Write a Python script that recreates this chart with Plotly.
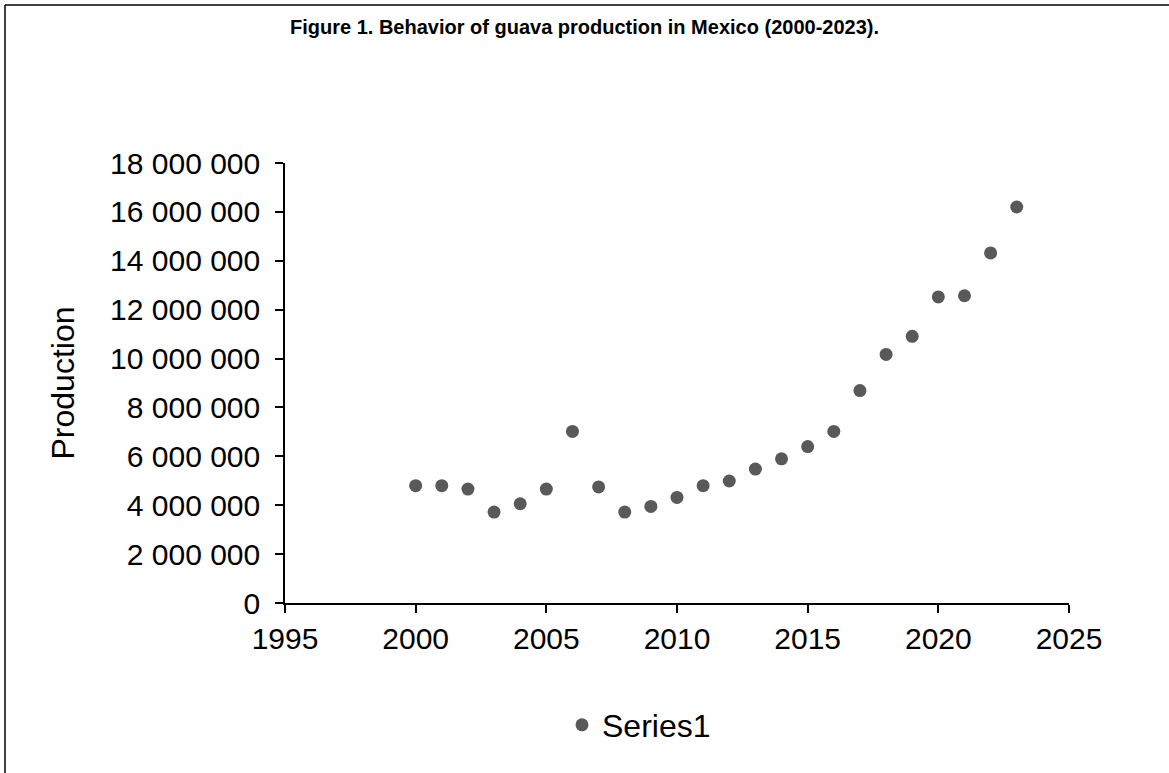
import plotly.graph_objects as go

years = list(range(2000, 2024))
production = [4800000, 4800000, 4660000, 3720000, 4060000, 4660000, 7020000, 4750000,
              3720000, 3950000, 4320000, 4800000, 4990000, 5480000, 5900000, 6400000,
              7020000, 8690000, 10170000, 10910000, 12520000, 12570000, 14320000, 16200000]
x_ticks = [1995, 2000, 2005, 2010, 2015, 2020, 2025]
y_ticks = list(range(0, 18000001, 2000000))

W, H = 1169, 773
L, R, T, B = 285, 100, 163, 170
pw, ph = W - L - R, H - T - B

def px(xp):
    return (xp - L) / pw

def py(yp):
    return (H - B - yp) / ph

fig = go.Figure()
fig.add_trace(go.Scatter(
    x=years, y=production, mode="markers", name="Series1",
    marker=dict(color="#595959", size=13, line=dict(width=0)),
))

axis_font = dict(family="Liberation Sans, Arial, sans-serif", size=30, color="#000000")

fig.update_layout(
    width=W, height=H,
    margin=dict(l=L, r=R, t=T, b=B, autoexpand=False),
    paper_bgcolor="white", plot_bgcolor="white",
    separators=". ",
    title=dict(
        text="<b>Figure 1. Behavior of guava production in Mexico (2000-2023).</b>",
        x=0.5, xanchor="center", y=1 - 27 / H, yanchor="middle",
        font=dict(family="Liberation Sans, Arial, sans-serif", size=20, color="#000000"),
    ),
    xaxis=dict(
        range=[1995, 2025], tickvals=x_ticks, ticktext=[str(v) for v in x_ticks],
        showgrid=False, zeroline=False, showline=True, linecolor="black", linewidth=1.5,
        ticks="outside", ticklen=8, tickwidth=1.5, tickcolor="black",
        tickfont=axis_font,
    ),
    yaxis=dict(
        range=[0, 18000000], tickvals=y_ticks, tickformat=",d",
        showgrid=False, zeroline=False, showline=True, linecolor="black", linewidth=1.5,
        ticks="outside", ticklen=8, tickwidth=1.5, tickcolor="black",
        tickfont=axis_font, ticklabelstandoff=9,
        title=dict(text="Production", font=dict(family="Liberation Sans, Arial, sans-serif", size=32, color="#000000"), standoff=26),
    ),
    showlegend=True,
    legend=dict(
        orientation="h", x=px(562), xanchor="left", y=py(725), yanchor="middle",
        font=dict(family="Liberation Sans, Arial, sans-serif", size=32, color="#000000"),
        bgcolor="rgba(0,0,0,0)",
    ),
    shapes=[
        dict(type="line", xref="paper", yref="paper", x0=px(5), x1=px(W + 5), y0=py(5), y1=py(5),
             line=dict(color="black", width=1.5)),
        dict(type="line", xref="paper", yref="paper", x0=px(5), x1=px(5), y0=py(5), y1=py(H + 5),
             line=dict(color="black", width=1.5)),
    ],
)

fig.write_html("out.html", config={"displayModeBar": False},
               post_script="document.body.style.margin='0';document.body.style.overflow='hidden';")
